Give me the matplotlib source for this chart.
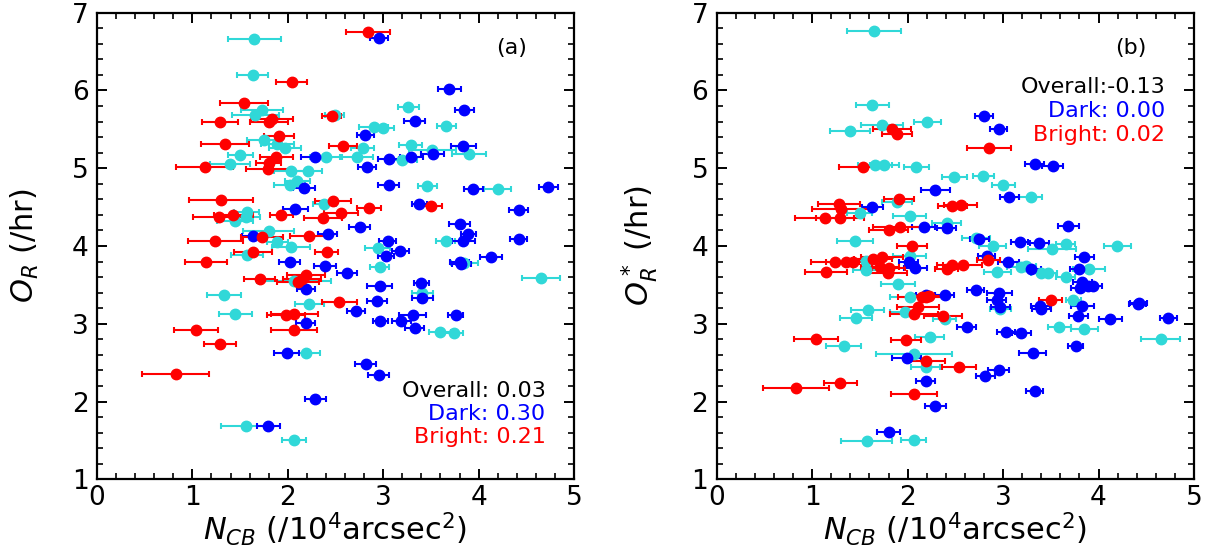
import numpy as np
import matplotlib.pyplot as plt

# ---- panel (a): O_R vs N_CB ----
a_cyan_x = [1.65, 1.63, 1.73, 1.66, 2.49, 1.75, 1.89, 1.97, 1.50, 2.40, 1.39, 2.03, 2.21, 2.10, 2.02,
            2.38, 1.57, 1.56, 1.45, 1.80, 1.89, 2.03, 1.575, 2.065, 1.33, 2.225, 1.45, 2.19, 1.565, 2.065,
            3.26, 2.90, 3.00, 3.66, 2.785, 3.29, 3.515, 3.90, 2.72, 3.20, 3.46, 4.20, 3.655, 2.94, 2.965,
            3.85, 4.65, 3.41, 3.595, 3.74]
a_cyan_y = [6.66, 6.20, 5.75, 5.68, 5.68, 5.36, 5.31, 5.26, 5.17, 5.14, 5.05, 4.96, 4.96, 4.83, 4.78,
            4.54, 4.44, 4.37, 4.32, 4.19, 4.05, 3.99, 3.88, 3.55, 3.37, 3.26, 3.12, 2.62, 1.68, 1.50,
            5.79, 5.53, 5.52, 5.54, 5.26, 5.30, 5.23, 5.18, 5.14, 5.11, 4.77, 4.73, 4.07, 3.98, 3.73,
            3.78, 3.59, 3.40, 2.90, 2.88]
a_cyan_e = [0.28, 0.16, 0.22, 0.25, 0.10, 0.18, 0.17, 0.17, 0.13, 0.17, 0.21, 0.17, 0.15, 0.13, 0.16,
            0.12, 0.13, 0.15, 0.19, 0.27, 0.11, 0.20, 0.17, 0.39, 0.18, 0.15, 0.17, 0.15, 0.27, 0.13,
            0.11, 0.15, 0.11, 0.10, 0.12, 0.12, 0.25, 0.18, 0.17, 0.15, 0.10, 0.14, 0.10, 0.13, 0.10,
            0.14, 0.20, 0.11, 0.12, 0.10]

a_blue_x = [2.955, 3.69, 3.85, 3.33, 2.81, 3.84, 3.52, 3.295, 2.29, 3.06, 2.83, 3.06, 3.945, 4.73, 2.17,
            3.38, 4.42, 2.08, 2.755, 3.80, 3.89, 2.42, 1.635, 3.045, 3.84, 4.42, 3.18, 3.03, 2.02, 2.39,
            2.62, 3.80, 3.82, 4.13, 3.40, 3.41, 2.19, 2.965, 2.935, 2.715, 3.31, 3.76, 2.97, 3.19, 3.33,
            2.19, 1.99, 2.815, 2.955, 2.29, 1.795]
a_blue_y = [6.68, 6.02, 5.75, 5.61, 5.43, 5.28, 5.18, 5.15, 5.15, 5.12, 5.02, 4.79, 4.73, 4.76, 4.74,
            4.54, 4.46, 4.48, 4.24, 4.28, 4.16, 4.16, 4.13, 4.07, 4.07, 4.09, 3.94, 3.87, 3.80, 3.74,
            3.65, 3.80, 3.77, 3.86, 3.53, 3.33, 3.45, 3.48, 3.29, 3.16, 3.11, 3.11, 3.03, 3.03, 2.94,
            3.01, 2.63, 2.48, 2.34, 2.03, 1.68]
a_blue_e = [0.09, 0.12, 0.10, 0.11, 0.09, 0.13, 0.12, 0.12, 0.15, 0.11, 0.09, 0.11, 0.10, 0.10, 0.12,
            0.08, 0.10, 0.13, 0.11, 0.11, 0.08, 0.10, 0.12, 0.09, 0.12, 0.09, 0.09, 0.08, 0.11, 0.12,
            0.10, 0.10, 0.10, 0.12, 0.08, 0.11, 0.09, 0.13, 0.10, 0.09, 0.14, 0.08, 0.08, 0.10, 0.10,
            0.10, 0.13, 0.11, 0.11, 0.11, 0.12]

a_red_x = [2.84, 2.04, 1.54, 1.29, 1.83, 1.80, 2.46, 1.91, 1.34, 1.88, 1.80, 1.13, 1.79, 2.58, 1.30,
           2.47, 1.43, 1.28, 1.93, 2.37, 2.56, 2.85, 3.50, 1.73, 1.24, 2.22, 1.635, 2.41, 1.146, 1.705,
           2.19, 2.15, 2.11, 2.54, 1.98, 2.07, 1.035, 2.065, 1.29, 0.825]
a_red_y = [6.75, 6.11, 5.84, 5.60, 5.63, 5.59, 5.67, 5.42, 5.31, 5.14, 5.07, 5.02, 4.99, 5.28, 4.59,
           4.58, 4.40, 4.37, 4.40, 4.36, 4.42, 4.49, 4.51, 4.11, 4.07, 4.13, 3.92, 3.92, 3.80, 3.58,
           3.63, 3.57, 3.54, 3.28, 3.11, 3.13, 2.92, 2.92, 2.74, 2.35]
a_red_e = [0.23, 0.16, 0.25, 0.19, 0.22, 0.20, 0.10, 0.16, 0.25, 0.17, 0.13, 0.30, 0.23, 0.15, 0.34,
           0.19, 0.20, 0.27, 0.12, 0.20, 0.18, 0.13, 0.12, 0.22, 0.29, 0.20, 0.20, 0.12, 0.22, 0.16,
           0.20, 0.20, 0.22, 0.18, 0.20, 0.25, 0.23, 0.24, 0.17, 0.35]

# ---- panel (b): O_R* vs N_CB ----
b_cyan_x = [1.65, 1.63, 2.205, 1.73, 1.40, 1.66, 1.755, 2.09, 1.89, 1.50, 2.02, 2.41, 1.45, 2.02, 1.56,
            1.56, 1.90, 2.02, 1.97, 1.58, 1.46, 2.39, 2.23, 1.33, 2.065, 2.19, 1.57, 2.065,
            2.49, 2.79, 3.00, 3.29, 2.715, 2.89, 3.655, 3.515, 4.195, 3.19, 3.245, 3.40, 3.47, 2.94,
            3.90, 3.655, 3.735, 2.97, 3.59, 3.85, 4.65]
b_cyan_y = [6.77, 5.81, 5.59, 5.55, 5.48, 5.04, 5.04, 5.01, 4.57, 4.42, 4.38, 4.29, 4.07, 3.87, 3.81,
            3.69, 3.51, 3.35, 3.15, 3.18, 3.07, 3.06, 2.83, 2.72, 2.61, 2.45, 1.49, 1.50,
            4.89, 4.90, 4.78, 4.63, 4.10, 4.00, 4.03, 3.96, 4.00, 3.73, 3.74, 3.65, 3.65, 3.66,
            3.71, 3.60, 3.30, 3.19, 2.96, 2.93, 2.81]
b_cyan_e = [0.28, 0.17, 0.14, 0.22, 0.21, 0.18, 0.15, 0.13, 0.16, 0.13, 0.17, 0.15, 0.19, 0.17, 0.15,
            0.13, 0.18, 0.20, 0.15, 0.17, 0.17, 0.12, 0.15, 0.18, 0.40, 0.15, 0.27, 0.13,
            0.13, 0.11, 0.12, 0.12, 0.15, 0.14, 0.10, 0.25, 0.14, 0.15, 0.10, 0.11, 0.10, 0.14,
            0.17, 0.10, 0.08, 0.11, 0.12, 0.14, 0.20]

b_blue_x = [2.29, 1.63, 2.17, 2.41, 2.01, 2.08, 2.19, 2.39, 1.99, 2.19, 2.29, 1.80,
            2.80, 2.955, 3.33, 3.52, 3.065, 3.685, 2.75, 3.175, 3.38, 3.85, 2.83, 3.055, 3.29, 3.80,
            3.83, 3.81, 3.885, 3.94, 2.715, 2.96, 2.935, 2.97, 3.39, 3.40, 3.83, 4.42, 4.41, 3.79,
            4.125, 4.73, 2.62, 3.03, 3.19, 3.76, 3.31, 2.955, 2.815, 3.33]
b_blue_y = [4.72, 4.50, 4.24, 4.23, 3.80, 3.72, 3.37, 3.37, 2.56, 2.27, 1.94, 1.61,
            5.67, 5.51, 5.05, 5.03, 4.63, 4.26, 4.09, 4.05, 4.04, 3.86, 3.87, 3.79, 3.70, 3.71,
            3.54, 3.46, 3.49, 3.48, 3.43, 3.40, 3.30, 3.21, 3.23, 3.19, 3.23, 3.27, 3.25, 3.10,
            3.06, 3.07, 2.96, 2.90, 2.88, 2.72, 2.62, 2.40, 2.33, 2.13]
b_blue_e = [0.15, 0.11, 0.12, 0.10, 0.10, 0.12, 0.10, 0.10, 0.15, 0.10, 0.11, 0.12,
            0.09, 0.09, 0.10, 0.11, 0.10, 0.11, 0.10, 0.09, 0.10, 0.10, 0.09, 0.11, 0.11, 0.10,
            0.10, 0.10, 0.10, 0.10, 0.09, 0.13, 0.10, 0.10, 0.10, 0.10, 0.12, 0.09, 0.09, 0.10,
            0.12, 0.09, 0.10, 0.09, 0.10, 0.08, 0.14, 0.11, 0.10, 0.09]

b_red_x = [1.835, 1.89, 1.535, 2.85, 1.91, 1.28, 1.30, 1.13, 1.29, 2.47, 2.555, 1.92, 1.80, 2.045,
           1.24, 1.35, 1.43, 1.64, 1.73, 1.71, 1.80, 1.79, 1.145, 2.41, 2.46, 2.575, 2.845, 2.15,
           2.19, 2.22, 2.11, 2.07, 2.37, 3.50, 1.04, 1.985, 2.19, 2.54, 1.295, 0.83, 2.07]
b_red_y = [5.50, 5.44, 5.02, 5.26, 4.61, 4.54, 4.47, 4.36, 4.36, 4.52, 4.53, 4.25, 4.21, 4.00,
           3.79, 3.80, 3.79, 3.83, 3.86, 3.73, 3.72, 3.65, 3.66, 3.70, 3.76, 3.76, 3.82, 3.35,
           3.35, 3.36, 3.22, 3.13, 3.10, 3.30, 2.80, 2.79, 2.52, 2.45, 2.24, 2.18, 2.10]
b_red_e = [0.20, 0.16, 0.25, 0.23, 0.16, 0.22, 0.30, 0.31, 0.25, 0.15, 0.17, 0.28, 0.20, 0.16,
           0.25, 0.20, 0.20, 0.20, 0.22, 0.20, 0.17, 0.20, 0.22, 0.12, 0.15, 0.20, 0.12, 0.25,
           0.20, 0.15, 0.22, 0.25, 0.20, 0.12, 0.23, 0.16, 0.20, 0.18, 0.17, 0.35, 0.24]

cyan = '#30D8D8'
blue = '#0000FF'
red = '#FF0000'


def draw(ax, series, ylabel, tag, stats, stat_y):
    for x, y, e, c in series:
        ax.errorbar(x, y, xerr=e, fmt='o', color=c, ms=7.5, elinewidth=1.5,
                    capsize=2.5, capthick=1.5)
    ax.set_xlim(0, 5)
    ax.set_ylim(1, 7)
    ax.set_xticks(np.arange(0, 6, 1))
    ax.set_yticks(np.arange(1, 8, 1))
    ax.set_xticks(np.arange(0, 5.01, 0.2), minor=True)
    ax.set_yticks(np.arange(1, 7.01, 0.2), minor=True)
    ax.tick_params(which='both', direction='in', top=True, right=True, labelsize=19)
    ax.tick_params(axis='y', pad=6)
    ax.tick_params(axis='x', pad=4)
    ax.tick_params(which='major', length=7.5, width=1.4)
    ax.tick_params(which='minor', length=4, width=1.2)
    for s in ax.spines.values():
        s.set_linewidth(1.6)
    ax.set_xlabel(r'$N_{CB}$ (/10$^4$arcsec$^2$)', fontsize=22, labelpad=0)
    ax.set_ylabel(ylabel, fontsize=22)
    ax.yaxis.set_label_coords(-0.118, 0.5)
    ax.text(0.868, 0.925, tag, transform=ax.transAxes, fontsize=16, ha='center', va='center')
    for (txt, c), yy in zip(stats, stat_y):
        ax.text(0.94, yy, txt, transform=ax.transAxes, fontsize=16, color=c,
                ha='right', va='center')


fig = plt.figure(figsize=(12.08, 5.49), dpi=100)
ax1 = fig.add_axes([0.0803, 0.127, 0.3949, 0.8499])
ax2 = fig.add_axes([0.5933, 0.127, 0.3951, 0.8499])

draw(ax1, [(a_cyan_x, a_cyan_y, a_cyan_e, cyan), (a_blue_x, a_blue_y, a_blue_e, blue),
           (a_red_x, a_red_y, a_red_e, red)],
     r'$O_R$ (/hr)', '(a)',
     [('Overall: 0.03', 'black'), ('Dark: 0.30', blue), ('Bright: 0.21', red)],
     [0.189, 0.140, 0.091])
draw(ax2, [(b_cyan_x, b_cyan_y, b_cyan_e, cyan), (b_blue_x, b_blue_y, b_blue_e, blue),
           (b_red_x, b_red_y, b_red_e, red)],
     r'$O^*_R$ (/hr)', '(b)',
     [('Overall:-0.13', 'black'), ('Dark: 0.00', blue), ('Bright: 0.02', red)],
     [0.84, 0.789, 0.738])

fig.savefig('out.png', dpi=100)
